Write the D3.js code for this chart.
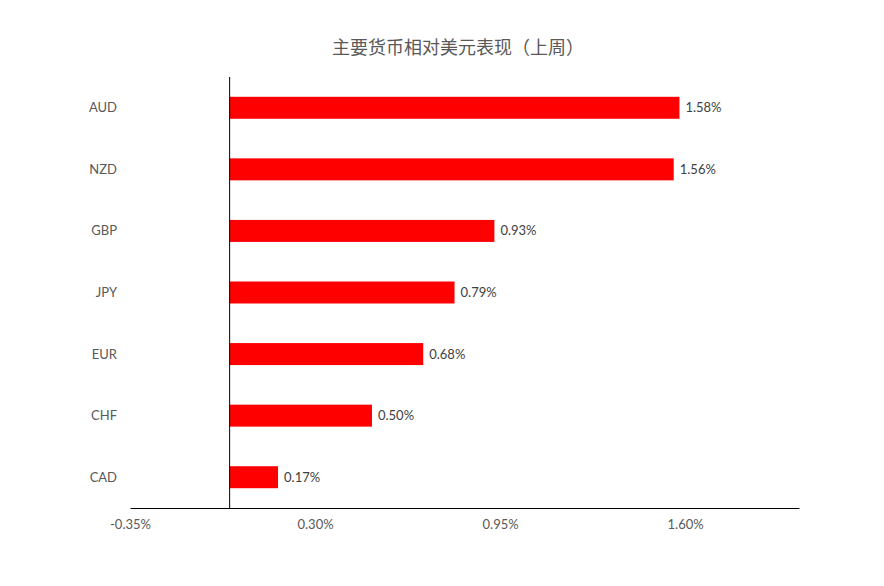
<!DOCTYPE html>
<html>
<head>
<meta charset="utf-8">
<script src="https://cdn.jsdelivr.net/npm/d3@7"></script>
<style>
  body { margin: 0; background: #fff; }
</style>
</head>
<body>
<div id="chart"></div>
<script>
// Data
var currencies = ["AUD", "NZD", "GBP", "JPY", "EUR", "CHF", "CAD"];
var changes = [1.58, 1.56, 0.93, 0.79, 0.68, 0.50, 0.17];
var tickValues = [-0.35, 0.30, 0.95, 1.60];

var svgWidth = 884;
var svgHeight = 586;

var margin = { top: 77, right: 85, bottom: 78, left: 130 };
var width = svgWidth - margin.left - margin.right;
var height = svgHeight - margin.top - margin.bottom;

var svg = d3.select("#chart")
    .append("svg")
    .attr("width", svgWidth)
    .attr("height", svgHeight);

// Title
svg.append("text")
    .attr("x", 458)
    .attr("y", 54)
    .attr("text-anchor", "middle")
    .style("font-family", "'Noto Sans CJK SC', sans-serif")
    .style("font-size", "18px")
    .style("fill", "#595959")
    .text("主要货币相对美元表现（上周）");

var chartGroup = svg.append("g")
    .attr("transform", `translate(${margin.left}, ${margin.top})`);

var rows = currencies.map((c, i) => ({ name: c, value: changes[i] }));

var xScale = d3.scaleLinear()
    .domain([-0.35, 2.0])
    .range([0, width]);

var yScale = d3.scaleBand()
    .domain(currencies)
    .range([0, height])
    .paddingInner(0.643)
    .paddingOuter(0.3215);

// Bars
chartGroup.selectAll("rect.bar")
    .data(rows)
    .enter()
    .append("rect")
    .attr("class", "bar")
    .attr("x", d => xScale(Math.min(0, d.value)))
    .attr("y", d => yScale(d.name))
    .attr("width", d => Math.abs(xScale(d.value) - xScale(0)))
    .attr("height", yScale.bandwidth())
    .attr("fill", "#ff0000");

// Value labels
chartGroup.selectAll("text.val")
    .data(rows)
    .enter()
    .append("text")
    .attr("class", "val")
    .attr("x", d => xScale(d.value) + 6)
    .attr("y", d => yScale(d.name) + yScale.bandwidth() / 2)
    .attr("dy", "0.35em")
    .style("font-family", "Lato, 'Open Sans', sans-serif")
    .style("font-size", "13px")
    .style("fill", "#404040")
    .text(d => d.value.toFixed(2) + "%");

// Category labels
chartGroup.selectAll("text.cat")
    .data(rows)
    .enter()
    .append("text")
    .attr("class", "cat")
    .attr("x", -13)
    .attr("y", d => yScale(d.name) + yScale.bandwidth() / 2)
    .attr("dy", "0.35em")
    .attr("text-anchor", "end")
    .style("font-family", "Lato, 'Open Sans', sans-serif")
    .style("font-size", "13px")
    .style("fill", "#595959")
    .text(d => d.name);

// Zero line (vertical axis)
chartGroup.append("line")
    .attr("x1", xScale(0))
    .attr("x2", xScale(0))
    .attr("y1", 0)
    .attr("y2", height)
    .attr("stroke", "#000")
    .attr("stroke-width", 1);

// Bottom axis
var bottomAxis = d3.axisBottom(xScale)
    .tickValues(tickValues)
    .tickSize(0)
    .tickPadding(12)
    .tickFormat(d => d.toFixed(2) + "%");

var xAxisG = chartGroup.append("g")
    .attr("transform", `translate(0, ${height})`)
    .call(bottomAxis);

xAxisG.select(".domain")
    .attr("stroke", "#000")
    .attr("stroke-width", 1);

xAxisG.selectAll("text")
    .style("font-family", "Lato, 'Open Sans', sans-serif")
    .style("font-size", "13px")
    .style("fill", "#595959");
</script>
</body>
</html>
